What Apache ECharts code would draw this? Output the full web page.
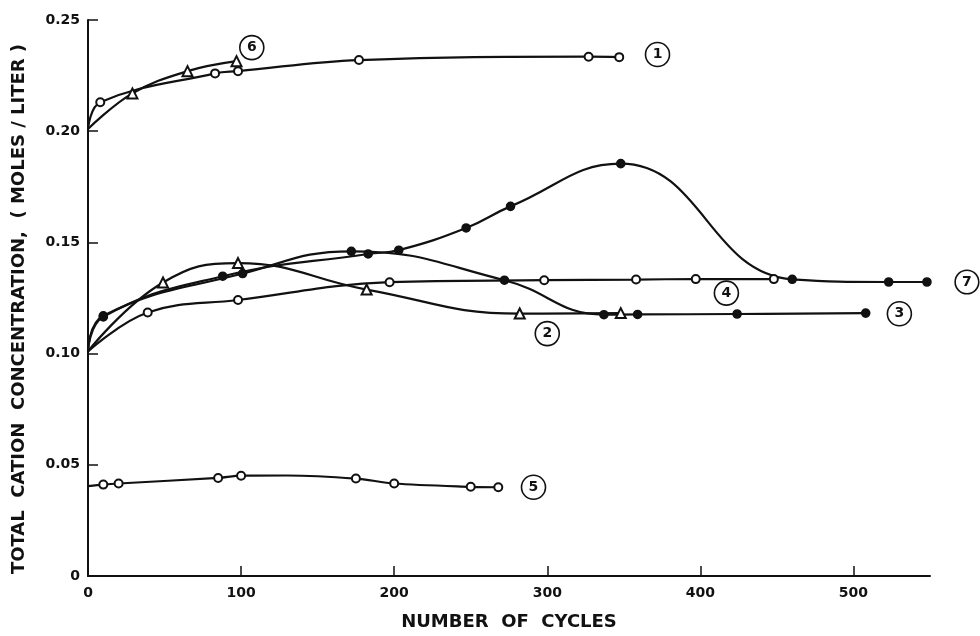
<!DOCTYPE html>
<html>
<head>
<meta charset="utf-8">
<script src="https://cdn.jsdelivr.net/npm/echarts@6/dist/echarts.min.js"></script>
<style>html,body{margin:0;padding:0;background:#fff;}#c{width:980px;height:636px;}</style>
</head>
<body>
<div id="c"></div>
<script>
// Data (cycles, total cation concentration mol/L)
const curve1 = [[0,0.201],[8,0.213],[83,0.226],[98,0.227],[177,0.232],[327,0.2335],[347,0.2333]];
const curve6 = [[0,0.201],[29,0.217],[65,0.227],[97,0.2315]];
const curve2 = [[0,0.101],[49,0.132],[98,0.1407],[182,0.1288],[282,0.118],[348,0.1182]];
const curve3 = [[0,0.101],[10,0.117],[101,0.136],[172,0.146],[272,0.133],[337,0.1175],[359,0.1176],[424,0.1178],[508,0.1182]];
const curve4 = [[0,0.101],[39,0.1185],[98,0.1241],[197,0.1321],[298,0.133],[358,0.1333],[397,0.1335],[448,0.1335]];
const curve7 = [[0,0.101],[10,0.1165],[88,0.1348],[183,0.1448],[203,0.1465],[247,0.1565],[276,0.1662],[348,0.1854],[460,0.1334],[523,0.1322],[548,0.1322]];
const curve5 = [[0,0.0404],[10,0.0411],[20,0.0416],[85,0.0441],[100,0.0451],[130,0.0452],[175,0.0438],[200,0.0416],[250,0.0401],[268,0.0399]];
const curve5Unmarked = [0, 5];   // indexes of curve-5 entries that are line only (no marker)
// circled curve numbers: [label, cycles, concentration]
const curveTags = [['1',372,0.2345],['6',107,0.2376],['2',300,0.109],['3',530,0.1179],['4',417,0.1272],['5',291,0.0399]];
const endTag7 = '7';   // written beside the last point of curve 7
const xTickValues = [0,100,200,300,400,500];
const yTickValues = [0,0.05,0.10,0.15,0.20,0.25];

const FONT = 'DejaVu Sans';
function pts(arr, hiddenIdx){
  return arr.map((p, i) => {
    const d = {value:p};
    if (p[0] === 0 || (hiddenIdx && hiddenIdx.indexOf(i) >= 0)) d.symbol = 'none';
    return d;
  });
}
function mkSeries(name, arr, symbol, smooth, tags, hiddenIdx){
  return {
    name, type:'line', data: pts(arr, hiddenIdx), smooth: smooth,
    symbol: symbol, symbolSize: symbol.indexOf('Triangle')>=0 ? 10 : 8,
    showAllSymbol: true, clip:false,
    lineStyle:{color:'#111', width:2.2},
    itemStyle:{color:'#111', borderColor:'#111', borderWidth:1.6},
    z: 3,
    markPoint: {
      symbol:'circle', symbolSize:24, silent:true,
      itemStyle:{color:'#fff', borderColor:'#111', borderWidth:1.6},
      label:{show:true, position:'inside', formatter:'{b}', color:'#111', fontFamily:FONT, fontWeight:'bold', fontSize:14},
      data: tags.map(t => ({name:t[0], coord:[t[1], t[2]]}))
    }
  };
}
const tag = id => curveTags.filter(t => t[0] === id);

const s7 = mkSeries('7', curve7, 'circle', 0.45, []);
const last7 = s7.data[s7.data.length - 1];
last7.label = {
  show:true, position:'inside', offset:[40, 0], formatter: () => endTag7,
  color:'#111', fontFamily:FONT, fontWeight:'bold', fontSize:14,
  backgroundColor:'#fff', borderColor:'#111', borderWidth:1.6, borderRadius:12,
  width:22, height:22, lineHeight:22, align:'center', verticalAlign:'middle', padding:0
};

const chart = echarts.init(document.getElementById('c'), null, {renderer:'canvas'});
chart.setOption({
  animation:false,
  backgroundColor:'#fff',
  grid:{left:88, right:50, top:20, bottom:52, containLabel:false},
  xAxis:{
    type:'value', min:0, max:550, interval:100,
    name:'NUMBER  OF  CYCLES', nameLocation:'middle', nameGap:37,
    nameTextStyle:{fontFamily:FONT, fontWeight:'bold', fontSize:18, color:'#111'},
    axisLine:{show:true, lineStyle:{color:'#111', width:2}},
    axisTick:{show:true, inside:true, length:10, lineStyle:{color:'#111', width:1.5},
      customValues: xTickValues},
    axisLabel:{fontFamily:FONT, fontWeight:'bold', fontSize:14, color:'#111', margin:10,
      customValues: xTickValues,
      formatter: v => xTickValues.indexOf(v) >= 0 ? String(v) : ''},
    splitLine:{show:false}
  },
  yAxis:{
    type:'value', min:0, max:0.25, interval:0.05,
    name:'TOTAL  CATION  CONCENTRATION,  ( MOLES / LITER )', nameLocation:'middle', nameGap:60, nameRotate:90,
    nameTextStyle:{fontFamily:FONT, fontWeight:'bold', fontSize:18, color:'#111', padding:[0, 22, 0, 0]},
    axisLine:{show:true, lineStyle:{color:'#111', width:2}},
    axisTick:{show:true, inside:true, length:10, lineStyle:{color:'#111', width:1.5}},
    axisLabel:{fontFamily:FONT, fontWeight:'bold', fontSize:14, color:'#111', margin:8,
      formatter: v => { const k = yTickValues.findIndex(t => Math.abs(t - v) < 1e-9); return k < 0 ? '' : (k === 0 ? '0' : yTickValues[k].toFixed(2)); }},
    splitLine:{show:false}
  },
  series:[
    mkSeries('1', curve1, 'emptyCircle', 0.4, tag('1')),
    mkSeries('6', curve6, 'emptyTriangle', 0.4, tag('6')),
    mkSeries('2', curve2, 'emptyTriangle', 0.45, tag('2')),
    mkSeries('3', curve3, 'circle', 0.45, tag('3')),
    mkSeries('4', curve4, 'emptyCircle', 0.4, tag('4')),
    s7,
    mkSeries('5', curve5, 'emptyCircle', 0.3, tag('5'), curve5Unmarked)
  ]
});
</script>
</body>
</html>
